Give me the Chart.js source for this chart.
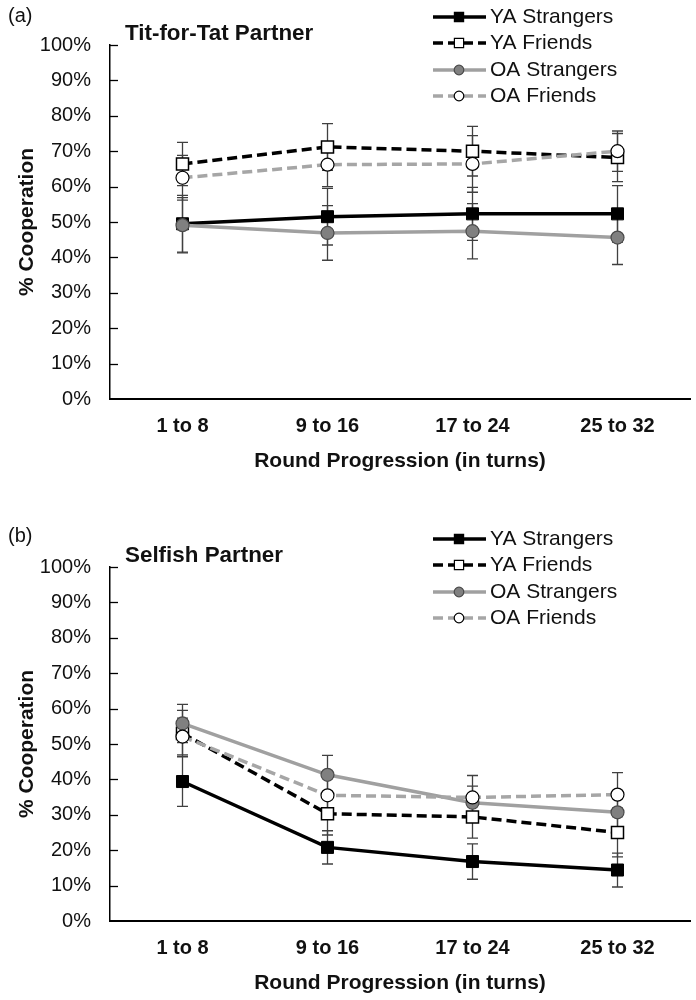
<!DOCTYPE html>
<html>
<head>
<meta charset="utf-8">
<script src="https://cdn.jsdelivr.net/npm/chart.js@4.4.1/dist/chart.umd.min.js"></script>
<style>
  html, body { margin: 0; background: #fff; overflow: hidden; font-family: "Liberation Sans", Arial, sans-serif; }
  .panel { position: absolute; left: 0; width: 696px; height: 475px; overflow: hidden; }
  .tag { position: absolute; left: 8px; font-size: 20px; line-height: 24px; color: #111; }
  .ttl { position: absolute; left: 125px; font-size: 22.4px; font-weight: bold; line-height: 24px; color: #111; }
</style>
</head>
<body>
<div class="panel" style="top:0">
  <canvas id="chartA" width="700" height="475"></canvas>
  <div class="tag" style="top:3px">(a)</div>
  <div class="ttl" style="top:21px">Tit-for-Tat Partner</div>
</div>
<div class="panel" style="top:522px">
  <canvas id="chartB" width="700" height="475"></canvas>
  <div class="tag" style="top:1px">(b)</div>
  <div class="ttl" style="top:21px">Selfish Partner</div>
</div>
<script>
// categories and tick labels
const rounds = ['1 to 8', '9 to 16', '17 to 24', '25 to 32'];
const seriesNames = ['YA Strangers', 'YA Friends', 'OA Strangers', 'OA Friends'];

// (a) Tit-for-Tat partner, % cooperation
const titYaStrangers = [49.5, 51.5, 52.3, 52.3];
const titYaFriends   = [66.4, 71.2, 70.0, 68.2];
const titOaStrangers = [49.1, 46.9, 47.4, 45.6];
const titOaFriends   = [62.5, 66.2, 66.4, 70.0];
// error bar half-widths
const titYaStrangersErr = [8.0, 8.0, 7.5, 8.0];
const titYaFriendsErr   = [6.1, 6.6, 7.0, 6.8];
const titOaStrangersErr = [7.8, 7.7, 7.8, 7.6];
const titOaFriendsErr   = [6.3, 6.2, 8.0, 5.7];

// (b) Selfish partner
const selYaStrangers = [39.4, 20.8, 16.8, 14.4];
const selYaFriends   = [53.0, 30.3, 29.4, 25.0];
const selOaStrangers = [55.8, 41.3, 33.4, 30.7];
const selOaFriends   = [52.1, 35.5, 34.9, 35.7];
const selYaStrangersErr = [7.0, 4.7, 5.0, 4.8];
const selYaFriendsErr   = [6.5, 6.0, 6.0, 6.9];
const selOaStrangersErr = [5.4, 5.5, 4.7, 5.0];
const selOaFriendsErr   = [5.2, 5.5, 6.2, 6.2];

const FONT = '"Liberation Sans", Arial, sans-serif';
Chart.defaults.font.family = FONT;
Chart.defaults.color = '#111';

// draws the error bars behind the lines
const errorBars = {
    id: 'errorBars',
    beforeDatasetsDraw(chart) {
        const ctx = chart.ctx;
        const y = chart.scales.y;
        ctx.save();
        ctx.strokeStyle = '#404040';
        ctx.lineWidth = 1.3;
        chart.data.datasets.forEach((ds, i) => {
            const meta = chart.getDatasetMeta(i);
            meta.data.forEach((pt, j) => {
                const v = ds.data[j], e = ds.errors[j];
                const top = y.getPixelForValue(v + e);
                const bot = y.getPixelForValue(v - e);
                ctx.beginPath();
                ctx.moveTo(pt.x, top); ctx.lineTo(pt.x, bot);
                ctx.moveTo(pt.x - 5.5, top); ctx.lineTo(pt.x + 5.5, top);
                ctx.moveTo(pt.x - 5.5, bot); ctx.lineTo(pt.x + 5.5, bot);
                ctx.stroke();
            });
        });
        ctx.restore();
    }
};

// short tick marks on the inside of the y axis
const innerTicks = {
    id: 'innerTicks',
    afterDraw(chart) {
        const ctx = chart.ctx;
        const y = chart.scales.y;
        const left = chart.chartArea.left;
        ctx.save();
        ctx.strokeStyle = '#000';
        ctx.lineWidth = 1.3;
        y.ticks.forEach(t => {
            if (t.value === 0) return;
            const py = Math.round(y.getPixelForValue(t.value)) + 0.5;
            ctx.beginPath();
            ctx.moveTo(left, py); ctx.lineTo(left + 8, py);
            ctx.stroke();
        });
        ctx.restore();
    }
};

// legend in the top right corner, line sample with marker
const sideLegend = {
    id: 'sideLegend',
    afterDraw(chart) {
        const ctx = chart.ctx;
        const rows = [17, 43, 70, 96];
        chart.data.datasets.forEach((ds, i) => {
            const yy = rows[i];
            ctx.save();
            ctx.strokeStyle = ds.borderColor;
            ctx.lineWidth = ds.borderWidth;
            ctx.setLineDash(ds.borderDash || []);
            ctx.beginPath();
            ctx.moveTo(433, yy); ctx.lineTo(486, yy);
            ctx.stroke();
            ctx.setLineDash([]);
            ctx.fillStyle = ds.pointBackgroundColor;
            ctx.strokeStyle = ds.pointBorderColor;
            ctx.lineWidth = 1.2;
            Chart.helpers.drawPoint(ctx, {
                pointStyle: ds.pointStyle,
                radius: ds.pointStyle === 'rect' ? 6.5 : 4.8,
                rotation: 0,
                borderWidth: 1.2
            }, 459, yy);
            ctx.fillStyle = '#111';
            ctx.font = '21px ' + FONT;
            ctx.textBaseline = 'middle';
            ctx.textAlign = 'left';
            ctx.fillText(ds.label, 490, yy);
            ctx.restore();
        });
    }
};

function makeDatasets(ya, yaErr, yf, yfErr, oa, oaErr, of, ofErr) {
    return [
        { label: seriesNames[0], data: ya, errors: yaErr, order: 4,
          borderColor: '#000', borderWidth: 3.5,
          pointStyle: 'rect', pointRadius: 8.5, pointBackgroundColor: '#000',
          pointBorderColor: '#000', pointBorderWidth: 1 },
        { label: seriesNames[1], data: yf, errors: yfErr, order: 3,
          borderColor: '#000', borderWidth: 3.5, borderDash: [10, 5],
          pointStyle: 'rect', pointRadius: 8.5, pointBackgroundColor: '#fff',
          pointBorderColor: '#000', pointBorderWidth: 1.5 },
        { label: seriesNames[2], data: oa, errors: oaErr, order: 2,
          borderColor: '#a0a0a0', borderWidth: 3.5,
          pointStyle: 'circle', pointRadius: 6.5, pointBackgroundColor: '#808080',
          pointBorderColor: '#4a4a4a', pointBorderWidth: 1.2 },
        { label: seriesNames[3], data: of, errors: ofErr, order: 1,
          borderColor: '#a6a6a6', borderWidth: 3.5, borderDash: [10, 5],
          pointStyle: 'circle', pointRadius: 6.5, pointBackgroundColor: '#fff',
          pointBorderColor: '#000', pointBorderWidth: 1.2 }
    ];
}

function makeChart(id, datasets) {
    return new Chart(document.getElementById(id), {
        type: 'line',
        data: { labels: rounds, datasets: datasets },
        options: {
            responsive: false,
            animation: false,
            devicePixelRatio: 1,
            layout: { padding: { top: 45, right: 4, left: 0, bottom: 0 } },
            elements: { line: { tension: 0, borderCapStyle: 'butt' } },
            plugins: { legend: { display: false }, tooltip: { enabled: false } },
            scales: {
                x: {
                    offset: true,
                    // tick marks are hidden, their length just spaces the labels
                    grid: { display: false, drawTicks: true, tickLength: 15 },
                    border: { display: true, color: '#000', width: 2 },
                    ticks: { padding: 0, color: '#111', font: { size: 20, weight: 'bold' } },
                    title: { display: true, text: 'Round Progression (in turns)', color: '#111',
                             font: { size: 21, weight: 'bold' }, padding: { top: 0, bottom: 1 } },
                    afterFit(s) { s.height = 76; }
                },
                y: {
                    min: 0, max: 100,
                    grid: { display: false, drawTicks: false },
                    border: { display: true, color: '#000', width: 1.5 },
                    ticks: { stepSize: 10, padding: 19, color: '#111', font: { size: 20 },
                             callback: v => v + '%' },
                    title: { display: true, text: '% Cooperation', color: '#111',
                             font: { size: 21, weight: 'bold' }, padding: { top: 15, bottom: 0 } },
                    afterFit(s) { s.width = 110; }
                }
            }
        },
        plugins: [errorBars, innerTicks, sideLegend]
    });
}

makeChart('chartA', makeDatasets(titYaStrangers, titYaStrangersErr, titYaFriends, titYaFriendsErr,
                                 titOaStrangers, titOaStrangersErr, titOaFriends, titOaFriendsErr));
makeChart('chartB', makeDatasets(selYaStrangers, selYaStrangersErr, selYaFriends, selYaFriendsErr,
                                 selOaStrangers, selOaStrangersErr, selOaFriends, selOaFriendsErr));
</script>
</body>
</html>
